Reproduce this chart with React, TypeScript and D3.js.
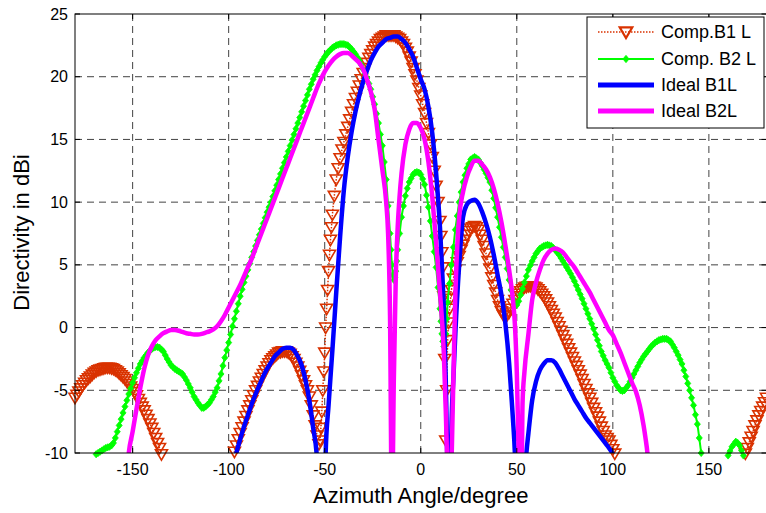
import React from 'react';
import * as d3 from 'd3';

const W = 766;
const H = 513;
const PLOT = { left: 75, right: 766.5, top: 14, bottom: 453 };

const xTicks = [-150, -100, -50, 0, 50, 100, 150];
const yTicks = [-10, -5, 0, 5, 10, 15, 20, 25];
const seriesNames = ['Comp.B1 L', 'Comp. B2 L', 'Ideal B1L', 'Ideal B2L'];
const xLabel = 'Azimuth Angle/degree';
const yLabel = 'Directivity in dBi';

// Comp.B1 L
const compB1Angles = [
  -180, -179, -178, -177, -176, -175, -174, -173, -172, -171, -170, -169, -168, -167, -166, -165, -164, -163,
  -162, -161, -160, -159, -158, -157, -156, -155, -154, -153, -152, -151, -150, -149, -148, -147, -146, -145,
  -144, -143, -142, -141, -140, -139, -138, -137, -136, -135, -134, -133, -132, -130, -126, -122, -118, -114,
  -110, -106, -102, -99, -98, -97, -96, -95, -94, -93, -92, -91, -90, -89, -88, -87, -86, -85, -84, -83, -82,
  -81, -80, -79, -78, -77, -76, -75, -74, -73, -72, -71, -70, -69, -68, -67, -66, -65, -64, -63, -62, -61, -60,
  -59, -58, -57, -56, -55, -54, -53, -52.5, -52, -51.5, -51, -50.5, -50, -49.5, -49, -48.5, -48, -47.5, -47,
  -46.5, -46, -45, -44, -43, -42, -41, -40, -39, -38, -37, -36, -35, -34, -33, -32, -31, -30, -29, -28, -27,
  -26, -25, -24, -23, -22, -21, -20, -19, -18, -17, -16, -15, -14, -13, -12, -11, -10, -9, -8, -7, -6, -5, -4,
  -3, -2, -1, 0, 1, 2, 3, 4, 5, 6, 7, 8, 9, 10, 10.5, 11, 11.5, 12, 12.5, 13, 13.5, 14, 14.5, 15, 15.5, 16, 17,
  18, 19, 20, 21, 22, 23, 24, 25, 26, 27, 28, 29, 30, 31, 32, 33, 34, 35, 36, 37, 38, 39, 40, 41, 42, 43, 44,
  45, 46, 47, 48, 49, 50, 51, 52, 53, 54, 55, 56, 57, 58, 59, 60, 61, 62, 63, 64, 65, 66, 67, 68, 69, 70, 71,
  72, 73, 74, 75, 76, 77, 78, 79, 80, 81, 82, 83, 84, 85, 86, 87, 88, 89, 90, 91, 92, 93, 94, 95, 96, 97, 98,
  99, 100, 101, 102, 106, 112, 120, 130, 140, 150, 160, 166, 167, 168, 169, 170, 171, 172, 173, 174, 175, 176,
  177, 178, 179, 180,
];
const compB1Values = [
  -5.6, -5.35, -5.1, -4.85, -4.6, -4.4, -4.2, -4.05, -3.9, -3.75, -3.6, -3.5, -3.4, -3.35, -3.3, -3.25, -3.2, -3.2,
  -3.2, -3.25, -3.3, -3.4, -3.5, -3.65, -3.8, -3.95, -4.1, -4.3, -4.5, -4.7, -4.9, -5.15, -5.4, -5.7, -6.0, -6.3,
  -6.6, -6.95, -7.3, -7.65, -8.0, -8.4, -8.8, -9.2, -9.6, -10.1, -10.6, -11.2, -11.8, -13.0, -16, -21, -30, -22,
  -17, -14, -12, -10.8, -10.4, -9.9, -9.4, -8.9, -8.4, -7.95, -7.5, -7.05, -6.6, -6.2, -5.8, -5.4, -5.0, -4.65, -4.3, -4.0, -3.7,
  -3.4, -3.1, -2.85, -2.6, -2.45, -2.3, -2.15, -2.0, -1.95, -1.9, -1.9, -1.9, -2.0, -2.1, -2.3, -2.5, -2.8, -3.1, -3.45, -3.8, -4.2, -4.6,
  -5.0, -5.5, -6.2, -7.0, -7.8, -8.6, -9.3, -9.0, -8.0, -6.7, -5.0, -3.5, -2.0, 0, 1.5, 3.0, 4.5, 5.8, 7.0,
  8.0, 9.0, 10.5, 11.8, 12.7, 13.5, 14.2, 14.8, 15.4, 16.0, 16.6, 17.2, 17.8, 18.3, 18.8, 19.3, 19.8, 20.3, 20.7, 21.1, 21.5,
  21.8, 22.1, 22.4, 22.6, 22.8, 23.0, 23.1, 23.2, 23.3, 23.3, 23.3, 23.3, 23.3, 23.2, 23.1, 23.0, 22.8, 22.6, 22.3, 22.0, 21.6, 21.2, 20.7,
  20.2, 19.7, 19.1, 18.5, 17.8, 17.1, 16.3, 15.5, 14.6, 13.6, 12.5, 11.3, 10.0, 8.5, 7.3, 6.0, 4.8, 2.5, -2.5, -9.0, -5.0, -1.0, 0.4, 1.5, 2.3, 3.0, 3.9,
  4.6, 5.2, 5.7, 6.2, 6.6, 7.0, 7.4, 7.7, 7.9, 8.0, 8.1, 8.0, 7.8, 7.4, 7.0, 6.5, 5.9, 5.3, 4.7, 4.0, 3.4, 2.8, 2.2, 1.7, 1.3, 1.0, 0.9,
  1.0, 1.2, 1.5, 1.9, 2.2, 2.5, 2.7, 2.9, 3.05, 3.2, 3.25, 3.3, 3.3, 3.3, 3.25, 3.2, 3.05, 2.9, 2.7, 2.5, 2.25, 2.0, 1.7, 1.4, 1.1, 0.8, 0.45,
  0.1, -0.25, -0.6, -0.95, -1.3, -1.65, -2.0, -2.35, -2.7, -3.05, -3.4, -3.75, -4.1, -4.5, -4.9, -5.25, -5.6, -6.0, -6.4, -6.75, -7.1, -7.5, -7.9, -8.25, -8.6, -8.8, -9.0,
  -9.35, -9.7, -10.05, -10.4, -12.5, -15, -20, -30, -24, -18, -13.5, -11.2, -10.85, -10.5, -10.05, -9.6, -9.15, -8.7, -8.25, -7.8, -7.4, -7.0,
  -6.65, -6.3, -5.95, -5.6,
];

// Comp. B2 L
const compB2Angles = [
  -180, -176, -172, -170, -169, -168, -167, -166, -165, -164, -163, -162, -161, -160, -159, -158, -157, -156,
  -155, -154, -153, -152, -151, -150, -149, -148, -147, -146, -145, -144, -143, -142, -141, -140, -139, -138,
  -137, -136, -135, -134, -133, -132, -131, -130, -129, -128, -127, -126, -125, -124, -123, -122, -121, -120,
  -119, -118, -117, -116, -115, -114, -113, -112, -111, -110, -109, -108, -107, -106, -105, -104, -103, -102,
  -101, -100, -99, -98, -97, -96, -95, -94, -93, -92, -91, -90, -89, -88, -87, -86, -85, -84, -83, -82, -81,
  -80, -79, -78, -77, -76, -75, -74, -73, -72, -71, -70, -69, -68, -67, -66, -65, -64, -63, -62, -61, -60, -59,
  -58, -57, -56, -55, -54, -53, -52, -51, -50, -49, -48, -47, -46, -45, -44, -43, -42, -41, -40, -39, -38, -37,
  -36, -35, -34, -33, -32, -31, -30, -29, -28, -27, -26, -25, -24, -23, -22, -21, -20, -19, -18, -17, -16,
  -15.5, -15, -14.5, -14, -13.5, -13, -12.5, -12, -11, -10, -9, -8, -7, -6, -5, -4, -3, -2, -1, 0, 1, 2, 3, 4,
  5, 6, 7, 8, 9, 10, 10.5, 11, 11.5, 12, 12.5, 13, 13.5, 14, 15, 16, 17, 18, 19, 20, 21, 22, 23, 24, 25, 26,
  27, 28, 29, 30, 31, 32, 33, 34, 35, 36, 37, 38, 39, 40, 41, 42, 43, 44, 45, 46, 47, 48, 49, 50, 51, 52, 53,
  54, 55, 56, 57, 58, 59, 60, 61, 62, 63, 64, 65, 66, 67, 68, 69, 70, 71, 72, 73, 74, 75, 76, 77, 78, 79, 80,
  81, 82, 83, 84, 85, 86, 87, 88, 89, 90, 91, 92, 93, 94, 95, 96, 97, 98, 99, 100, 101, 102, 103, 104, 105,
  106, 107, 108, 109, 110, 111, 112, 113, 114, 115, 116, 117, 118, 119, 120, 121, 122, 123, 124, 125, 126,
  127, 128, 129, 130, 131, 132, 133, 134, 135, 136, 137, 138, 139, 140, 141, 142, 143, 144, 145, 146, 148,
  152, 156, 158, 159, 160, 161, 162, 163, 164, 165, 166, 167, 168, 170, 176, 180,
];
const compB2Values = [
  -14, -13, -11.5, -10.4, -10.1, -10.0, -9.9, -9.8, -9.7, -9.6, -9.55, -9.5, -9.4, -9.2, -8.8, -8.3, -7.8, -7.3,
  -6.8, -6.3, -5.8, -5.3, -4.85, -4.4, -4.0, -3.6, -3.25, -2.9, -2.65, -2.4, -2.2, -2.0, -1.85, -1.7, -1.6, -1.55,
  -1.55, -1.6, -1.75, -1.9, -2.2, -2.5, -2.75, -3.0, -3.15, -3.3, -3.4, -3.5, -3.6, -3.7, -3.95, -4.2, -4.5, -4.8,
  -5.15, -5.5, -5.75, -6.0, -6.2, -6.4, -6.4, -6.3, -6.15, -6.0, -5.75, -5.5, -5.15, -4.8, -4.25, -3.7, -3.05, -2.4,
  -1.8, -1.2, -0.55, 0.1, 0.7, 1.3, 1.9, 2.5, 3.05, 3.6, 4.1, 4.6, 5.1, 5.6, 6.05, 6.5, 6.95, 7.4, 7.85, 8.3, 8.75,
  9.2, 9.6, 10.0, 10.45, 10.9, 11.35, 11.8, 12.25, 12.7, 13.15, 13.6, 14.05, 14.5, 14.95, 15.4, 15.85, 16.3, 16.75, 17.2, 17.65, 18.1, 18.55,
  19.0, 19.4, 19.8, 20.15, 20.5, 20.8, 21.1, 21.35, 21.6, 21.8, 22.0, 22.15, 22.3, 22.4, 22.5, 22.55, 22.6, 22.6, 22.6, 22.55, 22.5, 22.35,
  22.2, 22.0, 21.8, 21.55, 21.3, 20.95, 20.6, 20.25, 19.9, 19.45, 19.0, 18.4, 17.8, 17.05, 16.3, 15.4, 14.5, 13.2, 11.8, 9.7, 7.5,
  6.2, 5.0, 4.2, 3.8, 4.0, 4.5, 5.3, 6.2, 7.5, 8.8, 9.7, 10.5, 11.1, 11.6, 11.9, 12.2, 12.35, 12.4, 12.35, 12.2, 11.85, 11.4, 10.55, 9.6,
  8.5, 7.3, 6.05, 4.8, 3.2, 1.5, 0.5, -0.5, -1.1, -1.5, -1.2, -0.5, 0.7, 2.0, 3.5, 5.0, 6.4, 7.8, 8.9, 10.0, 10.8, 11.6, 12.15, 12.7, 13.05, 13.4,
  13.5, 13.6, 13.5, 13.4, 13.15, 12.9, 12.6, 12.3, 11.95, 11.6, 10.95, 10.3, 9.55, 8.8, 8.0, 7.2, 6.4, 5.6, 4.7, 3.8, 3.0, 2.3, 1.9, 1.8, 2.1, 2.6, 3.1,
  3.6, 4.1, 4.6, 4.95, 5.3, 5.6, 5.9, 6.1, 6.3, 6.4, 6.5, 6.55, 6.6, 6.55, 6.5, 6.35, 6.2, 6.0, 5.8, 5.55, 5.3, 5.05, 4.8, 4.55, 4.3, 4.0, 3.7,
  3.35, 3.0, 2.65, 2.3, 1.9, 1.5, 1.1, 0.7, 0.3, -0.1, -0.55, -1.0, -1.45, -1.9, -2.25, -2.6, -2.9, -3.2, -3.6, -4.0, -4.3, -4.6, -4.8, -5.0, -5.05,
  -5.0, -4.8, -4.6, -4.3, -4.0, -3.7, -3.4, -3.1, -2.8, -2.55, -2.3, -2.1, -1.9, -1.7, -1.5, -1.35, -1.2, -1.1, -1.0, -0.95, -0.9,
  -0.9, -0.9, -1.0, -1.1, -1.35, -1.6, -1.9, -2.2, -2.55, -2.9, -3.4, -3.9, -4.45, -5.0, -5.6, -6.2, -6.95, -7.7, -8.8, -10.0, -12,
  -14, -12, -11, -10.6, -10.2, -9.85, -9.5, -9.3, -9.1, -9.2, -9.4, -9.8, -10.2, -12, -13, -14,
];

// Ideal B1L
const idealB1Angles = [
  -98, -96, -94, -92, -90, -88, -86, -84, -82, -80, -78, -76, -74, -72, -70, -68, -66, -64, -62, -60,
  -58, -56, -54, -52, -50, -49.5, -48, -46, -44, -42, -40, -38, -36, -34, -32, -30, -28, -26, -24,
  -22, -20, -18, -16, -14, -12, -10, -8, -6, -4, -2, 0, 2, 4, 6, 8, 10, 11, 12, 13, 14, 15, 16, 17,
  18, 20, 22, 24, 26, 28, 30, 32, 34, 36, 38, 40, 42, 44, 46, 47, 48, 49, 50, 52, 54, 55, 56, 58, 60,
  62, 64, 66, 68, 70, 72, 74, 76, 78, 80, 82, 84, 86, 88, 90, 92, 94, 96, 98, 100, 102,
];
const idealB1Values = [
  -11.5, -10.0, -8.9, -7.9, -7.0, -6.1, -5.3, -4.6, -3.9, -3.3, -2.8, -2.3, -2.0, -1.7, -1.6, -1.6, -1.8, -2.3, -3.0, -4.2,
  -5.8, -8.0, -10.5, -20, -14, -10, -6.2, -1.8, 2.8, 7.2, 11.0, 13.6, 15.6, 17.2, 18.5, 19.6, 20.5, 21.3, 21.9,
  22.4, 22.7, 23.0, 23.1, 23.2, 23.2, 23.0, 22.7, 22.2, 21.6, 20.7, 19.8, 19.0, 17.6, 15.5, 12.3, 8.0, 5.0, 1.5, -4, -12, -20, -8, -4,
  -0.5, 5.0, 8.8, 9.8, 10.1, 10.2, 9.9, 9.2, 8.3, 7.2, 5.8, 4.2, 2.6, 0.4, -2.8, -5, -7.3, -10, -15, -25, -12, -10, -8.5, -5.8, -4.3,
  -3.4, -2.9, -2.6, -2.6, -2.8, -3.3, -3.9, -4.5, -5.1, -5.7, -6.2, -6.7, -7.2, -7.6, -8.0, -8.4, -8.8, -9.2, -9.6, -10.1, -11,
];

// Ideal B2L
const idealB2Angles = [
  -156, -152, -150, -148, -146, -144, -142, -140, -138, -136, -134, -132, -130, -128, -126, -124,
  -122, -120, -118, -116, -114, -112, -110, -108, -106, -104, -102, -100, -98, -96, -94, -92, -90,
  -88, -86, -84, -82, -80, -78, -76, -74, -72, -70, -68, -66, -64, -62, -60, -58, -56, -54, -52,
  -50, -48, -46, -44, -42, -40, -38, -36, -34, -32, -30, -28, -26, -24, -22, -20, -18, -17, -16,
  -15, -14, -13, -12, -11, -10, -8, -6, -4, -2, 0, 2, 4, 6, 8, 10, 12, 13, 14, 15, 16, 17, 18, 19,
  20, 22, 24, 26, 28, 30, 32, 34, 36, 38, 40, 42, 44, 46, 48, 49, 50, 51, 52, 53, 54, 56, 58, 60,
  62, 64, 66, 68, 70, 72, 74, 76, 78, 80, 82, 84, 86, 88, 90, 92, 94, 96, 98, 100, 102, 104, 106,
  108, 110, 112, 114, 116, 117, 118, 119,
];
const idealB2Values = [
  -20, -10, -8.3, -6.5, -4.8, -3.3, -2.2, -1.5, -1.0, -0.7, -0.45, -0.3, -0.2, -0.2, -0.25, -0.35,
  -0.45, -0.5, -0.55, -0.55, -0.5, -0.4, -0.3, -0.15, 0.1, 0.5, 1.0, 1.6, 2.2, 2.8, 3.4, 4.1, 4.8,
  5.5, 6.3, 7.1, 7.9, 8.7, 9.5, 10.3, 11.1, 11.9, 12.7, 13.5, 14.3, 15.1, 15.9, 16.7, 17.5, 18.3, 19.1, 19.8,
  20.4, 20.9, 21.3, 21.6, 21.8, 21.9, 21.9, 21.7, 21.4, 21.1, 20.6, 19.8, 18.8, 17.4, 15.0, 12.6, 10.0, 7.5, 1.0,
  -15, -4, 4, 8.0, 10.5, 12.3, 14.6, 15.8, 16.3, 16.3, 15.9, 15.0, 13.2, 10.4, 6.8, 2.8, -2, -6.5, -12, -20, -11, -4, 2.5, 6.5,
  8.8, 10.8, 12.0, 12.8, 13.3, 13.3, 13.0, 12.6, 12.0, 11.1, 9.9, 8.4, 6.6, 4.6, 2.2, 0.3, -3.5, -10, -20, -6, -3.5, -0.6, 2.2, 3.6,
  4.6, 5.4, 5.9, 6.2, 6.3, 6.2, 6.0, 5.6, 5.2, 4.8, 4.3, 3.8, 3.3, 2.8, 2.2, 1.6, 1.0, 0.4, -0.2, -0.6, -1.3, -2.0, -2.8,
  -3.6, -4.4, -5.1, -6.2, -7.8, -8.8, -10, -12,
];

const COLORS = ['#D93200', '#00FF00', '#0000FF', '#FF00FF'];
const FONT = '"Liberation Sans", Arial, Helvetica, sans-serif';

function triPath(x: number, y: number, s = 1) {
  const hw = 6 * s;
  return `M${x - hw},${y - 4.5 * s}L${x + hw},${y - 4.5 * s}L${x},${y + 5.8 * s}Z`;
}
function diaPath(x: number, y: number, s = 1) {
  const hw = 3 * s;
  const hh = 3.6 * s;
  return `M${x},${y - hh}L${x + hw},${y}L${x},${y + hh}L${x - hw},${y}Z`;
}

export default function App() {
  const x = d3.scaleLinear().domain([-180, 180]).range([PLOT.left, PLOT.right]);
  const y = d3.scaleLinear().domain([-10, 25]).range([PLOT.bottom, PLOT.top]);

  const mk = (a: number[], v: number[]) => a.map((ang, i) => ({ a: ang, v: v[i] }));
  const s1 = mk(compB1Angles, compB1Values);
  const s2 = mk(compB2Angles, compB2Values);
  const s3 = mk(idealB1Angles, idealB1Values);
  const s4 = mk(idealB2Angles, idealB2Values);

  const line = d3
    .line<{ a: number; v: number }>()
    .x((d) => x(d.a))
    .y((d) => y(d.v))
    .curve(d3.curveMonotoneX);

  const visible = (d: { v: number }) => d.v >= -10.2 && d.v <= 25.2;

  const pw = PLOT.right - PLOT.left;
  const ph = PLOT.bottom - PLOT.top;

  const legendX = 587;
  const legendY = 17;
  const legendW = 177;
  const legendH = 111;
  const rowY = [32, 59, 85, 111];

  return (
    <svg
      width={W}
      height={H}
      style={{ position: 'absolute', left: 0, top: 0, background: '#fff' }}
      fontFamily={FONT}
    >
      <defs>
        <clipPath id="plotClip">
          <rect x={PLOT.left} y={PLOT.top} width={pw} height={ph} />
        </clipPath>
      </defs>
      <rect x={0} y={0} width={W} height={H} fill="#fff" />

      {/* grid */}
      <g stroke="#111" strokeWidth={0.8} strokeDasharray="7,5" fill="none">
        {xTicks.map((t) => (
          <line key={'gx' + t} x1={x(t)} x2={x(t)} y1={PLOT.top} y2={PLOT.bottom} />
        ))}
        {yTicks
          .filter((t) => t > -10 && t < 25)
          .map((t) => (
            <line key={'gy' + t} x1={PLOT.left} x2={PLOT.right} y1={y(t)} y2={y(t)} />
          ))}
      </g>

      {/* series */}
      <g clipPath="url(#plotClip)">
        <path d={line(s1) || ''} fill="none" stroke={COLORS[0]} strokeWidth={1.5} strokeDasharray="1.5,1.5" />
      </g>
      <g>
        {s1.filter(visible).map((d, i) => (
          <path key={'t' + i} d={triPath(x(d.a), y(d.v))} fill="none" stroke={COLORS[0]} strokeWidth={1.6} />
        ))}
      </g>
      <g clipPath="url(#plotClip)">
        <path d={line(s2) || ''} fill="none" stroke={COLORS[1]} strokeWidth={2} />
      </g>
      <g>
        {s2.filter(visible).map((d, i) => (
          <path key={'d' + i} d={diaPath(x(d.a), y(d.v))} fill={COLORS[1]} stroke={COLORS[1]} strokeWidth={0.8} />
        ))}
      </g>
      <g clipPath="url(#plotClip)">
        <path d={line(s3) || ''} fill="none" stroke={COLORS[2]} strokeWidth={4.5} strokeLinejoin="round" />
        <path d={line(s4) || ''} fill="none" stroke={COLORS[3]} strokeWidth={4.5} strokeLinejoin="round" />
      </g>

      {/* frame */}
      <rect x={PLOT.left} y={PLOT.top} width={pw} height={ph} fill="none" stroke="#000" strokeWidth={1} />

      {/* ticks */}
      <g stroke="#000" strokeWidth={1}>
        {xTicks.map((t) => (
          <g key={'tx' + t}>
            <line x1={x(t)} x2={x(t)} y1={PLOT.bottom} y2={PLOT.bottom - 5} />
            <line x1={x(t)} x2={x(t)} y1={PLOT.top} y2={PLOT.top + 5} />
          </g>
        ))}
        {yTicks.map((t) => (
          <g key={'ty' + t}>
            <line x1={PLOT.left} x2={PLOT.left + 5} y1={y(t)} y2={y(t)} />
            <line x1={PLOT.right} x2={PLOT.right - 5} y1={y(t)} y2={y(t)} />
          </g>
        ))}
      </g>

      {/* tick labels */}
      <g fontSize={16} fill="#000">
        {xTicks.map((t) => (
          <text key={'lx' + t} x={x(t)} y={475} textAnchor="middle">
            {t}
          </text>
        ))}
        {yTicks.map((t) => (
          <text key={'ly' + t} x={68} y={y(t)} textAnchor="end" dominantBaseline="central">
            {t}
          </text>
        ))}
      </g>

      {/* axis labels */}
      <text x={x(0)} y={503} textAnchor="middle" fontSize={22}>
        {xLabel}
      </text>
      <text transform={`translate(29,${(PLOT.top + PLOT.bottom) / 2 - 1}) rotate(-90)`} textAnchor="middle" fontSize={22}>
        {yLabel}
      </text>

      {/* legend */}
      <g>
        <rect x={legendX} y={legendY} width={legendW} height={legendH} fill="#fff" stroke="#000" strokeWidth={1} />
        {seriesNames.map((name, i) => {
          const yy = rowY[i];
          const x1 = 598;
          const x2 = 654;
          const mx = (x1 + x2) / 2;
          return (
            <g key={'leg' + i}>
              {i === 0 && (
                <>
                  <line x1={x1} x2={x2} y1={yy} y2={yy} stroke={COLORS[0]} strokeWidth={1.5} strokeDasharray="1.5,1.5" />
                  <path d={triPath(mx, yy, 1.05)} fill="none" stroke={COLORS[0]} strokeWidth={2.2} />
                </>
              )}
              {i === 1 && (
                <>
                  <line x1={x1} x2={x2} y1={yy} y2={yy} stroke={COLORS[1]} strokeWidth={2} />
                  <path d={diaPath(mx, yy)} fill={COLORS[1]} stroke={COLORS[1]} />
                </>
              )}
              {i >= 2 && <line x1={x1} x2={x2} y1={yy} y2={yy} stroke={COLORS[i]} strokeWidth={5} />}
              <text x={661} y={yy} dominantBaseline="central" fontSize={18} fill="#000">
                {name}
              </text>
            </g>
          );
        })}
      </g>
    </svg>
  );
}
